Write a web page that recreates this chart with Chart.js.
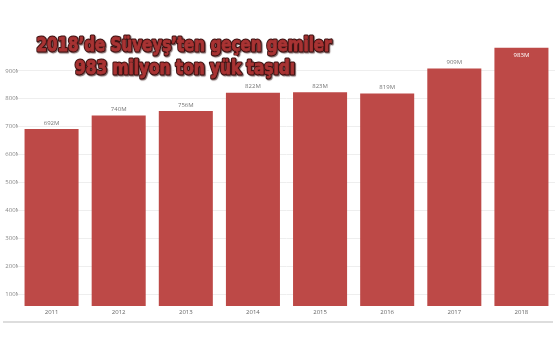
<!DOCTYPE html>
<html>
<head>
<meta charset="utf-8">
<script src="https://cdn.jsdelivr.net/npm/chart.js@4.4.1/dist/chart.umd.min.js"></script>
<style>
  html, body { margin: 0; padding: 0; background: #fff; }
  #wrap { width: 555px; height: 355px; position: relative; overflow: hidden; }
</style>
</head>
<body>
<div id="wrap"><canvas id="shipChart" width="555" height="355"></canvas></div>
<script>
//Data (million tons)
const years = ["2011", "2012", "2013", "2014", "2015", "2016", "2017", "2018"];
const cargo = [692, 740, 756, 822, 823, 819, 909, 983];
const yTicks = [100, 200, 300, 400, 500, 600, 700, 800, 900];
const titleLines = ["2018\u2019de Süveyş\u2019ten geçen gemiler", "983 milyon ton yük taşıdı"];

const barRed = '#bd4947';

//Value labels over the bars, last one sits inside the bar in white
const valueLabels = {
    id: 'valueLabels',
    afterDatasetsDraw(chart) {
        const ctx = chart.ctx;
        const meta = chart.getDatasetMeta(0);
        ctx.save();
        ctx.font = '6px "Open Sans", sans-serif';
        ctx.textAlign = 'center';
        ctx.textBaseline = 'middle';
        meta.data.forEach((bar, i) => {
            const txt = cargo[i] + 'M';
            if (i === cargo.length - 1) {
                ctx.fillStyle = '#ffffff';
                ctx.fillText(txt, bar.x, bar.y + 8);
            } else {
                ctx.fillStyle = '#777777';
                ctx.fillText(txt, bar.x, bar.y - 6);
            }
        });
        ctx.restore();
    }
};

//Big headline drawn over the plot, plus the grey rule at the bottom
const headline = {
    id: 'headline',
    afterDraw(chart) {
        const ctx = chart.ctx;
        ctx.save();
        ctx.fillStyle = '#dddddd';
        ctx.fillRect(3, 321, 550, 2);

        const spots = [{ cx: 184, cy: 46, w: 295 }, { cx: 185, cy: 69, w: 220 }];
        ctx.font = 'bold 19px "Liberation Sans Narrow", "DejaVu Sans Condensed", sans-serif';
        ctx.textAlign = 'center';
        ctx.textBaseline = 'middle';
        ctx.lineJoin = 'round';
        titleLines.forEach((line, i) => {
            const s = spots[i];
            const k = s.w / ctx.measureText(line).width;
            ctx.save();
            ctx.translate(s.cx, s.cy);
            ctx.scale(k, 1);
            ctx.strokeStyle = '#ffffff';
            ctx.lineWidth = 7;
            ctx.strokeText(line, 0, 0);
            ctx.shadowColor = 'rgba(40,0,0,0.6)';
            ctx.shadowOffsetX = 1;
            ctx.shadowOffsetY = 1;
            ctx.shadowBlur = 1;
            ctx.strokeStyle = '#3b1212';
            ctx.lineWidth = 3;
            ctx.strokeText(line, 0, 0);
            ctx.shadowColor = 'transparent';
            ctx.strokeStyle = '#a83333';
            ctx.lineWidth = 0.8;
            ctx.strokeText(line, 0, 0);
            ctx.fillStyle = '#a83333';
            ctx.fillText(line, 0, 0);
            ctx.restore();
        });
        ctx.restore();
    }
};

const shipChart = new Chart(
    document.getElementById('shipChart'),
    {
        type: 'bar',
        data: {
            labels: years,
            datasets: [{
                label: 'Yük',
                backgroundColor: barRed,
                borderWidth: 0,
                data: cargo,
                categoryPercentage: 1,
                barPercentage: 0.805,
            }]
        },
        options: {
            responsive: false,
            animation: false,
            layout: {
                padding: { top: 43, right: 0, bottom: 0, left: 0 }
            },
            scales: {
                x: {
                    afterFit(s) { s.height = 49; },
                    grid: { display: false, drawTicks: false },
                    border: { display: false },
                    ticks: {
                        padding: 3,
                        color: '#666666',
                        font: { family: 'Open Sans', size: 6 },
                        maxRotation: 0,
                    },
                },
                y: {
                    min: 57,
                    max: 1000,
                    afterFit(s) { s.width = 18; },
                    afterBuildTicks(s) { s.ticks = yTicks.map(v => ({ value: v })); },
                    grid: { color: '#eeeeee', drawTicks: false },
                    border: { display: false },
                    ticks: {
                        padding: -3,
                        color: '#888888',
                        font: { family: 'Open Sans', size: 6 },
                        callback: v => v + 'M',
                    },
                },
            },
            plugins: {
                legend: { display: false },
                tooltip: { enabled: false },
            },
        },
        plugins: [valueLabels, headline]
    }
);
</script>
</body>
</html>
